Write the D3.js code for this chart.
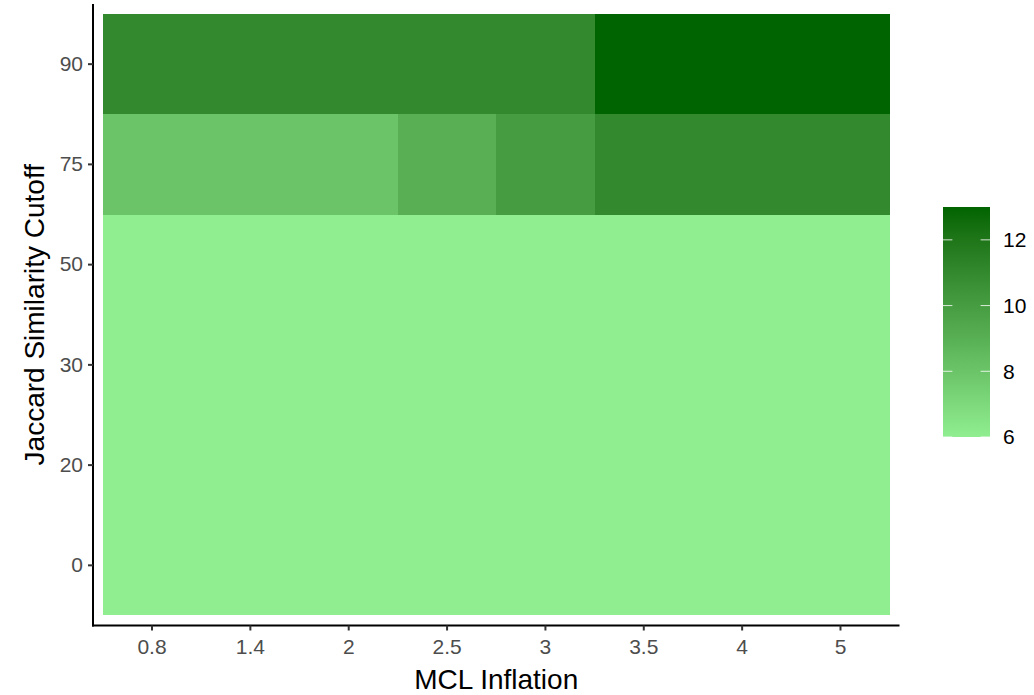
<!DOCTYPE html>
<meta charset="UTF-8">
<style>
  body { margin: 0; background: #fff; }
  text { font-family: "Liberation Sans", Arial, sans-serif; }
</style>
<svg width="1034" height="695"></svg>
<script src="https://cdn.jsdelivr.net/npm/d3@7"></script>
<script>

// data
var inflation = ["0.8", "1.4", "2", "2.5", "3", "3.5", "4", "5"];
var cutoff = ["0", "20", "30", "50", "75", "90"];
// one row per cutoff, one value per inflation
var row0  = [6, 6, 6, 6, 6, 6, 6, 6];
var row20 = [6, 6, 6, 6, 6, 6, 6, 6];
var row30 = [6, 6, 6, 6, 6, 6, 6, 6];
var row50 = [6, 6, 6, 6, 6, 6, 6, 6];
var row75 = [8, 8, 8, 9, 10, 11, 11, 11];
var row90 = [11, 11, 11, 11, 11, 13, 13, 13];
var legendTicks = [6, 8, 10, 12];
var legendLimits = [6, 13];

var rows = [row0, row20, row30, row50, row75, row90];
var cells = [];
rows.forEach(function(r, i) {
  r.forEach(function(v, j) {
    cells.push({x: inflation[j], y: cutoff[i], value: v});
  });
});

var svg = d3.select("svg");

var panel = {left: 93, right: 899.5, top: 4, bottom: 625.5};

var x = d3.scaleBand()
    .domain(inflation)
    .range([panel.left, panel.right])
    .paddingInner(0).paddingOuter(0.1);

var y = d3.scaleBand()
    .domain(cutoff)
    .range([panel.bottom, panel.top])
    .paddingInner(0).paddingOuter(0.1);

var color = d3.scaleLinear()
    .domain(legendLimits)
    .range(["#90EE90", "#006400"])
    .interpolate(d3.interpolateLab);

// tiles
svg.append("g").selectAll("rect")
  .data(cells)
  .join("rect")
    .attr("x", d => x(d.x))
    .attr("y", d => y(d.y))
    .attr("width", x.bandwidth())
    .attr("height", y.bandwidth())
    .attr("fill", d => color(d.value))
    .attr("shape-rendering", "crispEdges");

// axes
var xAxis = svg.append("g")
    .attr("transform", "translate(0," + panel.bottom + ")")
    .call(d3.axisBottom(x).tickSize(5).tickPadding(9).tickSizeOuter(0));
var yAxis = svg.append("g")
    .attr("transform", "translate(" + panel.left + ",0)")
    .call(d3.axisLeft(y).tickSize(5).tickPadding(5).tickSizeOuter(0));

[xAxis, yAxis].forEach(function(g) {
  g.attr("font-family", null).attr("font-size", null);
  g.select(".domain").attr("stroke", "#000").attr("stroke-width", 2);
  g.selectAll(".tick line").attr("stroke", "#333").attr("stroke-width", 2);
  g.selectAll(".tick text").attr("fill", "#4d4d4d").style("font-size", "21px");
});
xAxis.select(".domain").attr("d", "M" + (panel.left - 1) + ",0H" + panel.right);
yAxis.select(".domain").attr("d", "M0," + panel.top + "V" + (panel.bottom + 1));

// axis titles
svg.append("text")
    .attr("x", (panel.left + panel.right) / 2)
    .attr("y", 689)
    .attr("text-anchor", "middle")
    .style("font-size", "28px")
    .text("MCL Inflation");

svg.append("text")
    .attr("transform", "translate(44," + (panel.top + panel.bottom) / 2 + ") rotate(-90)")
    .attr("text-anchor", "middle")
    .style("font-size", "28px")
    .text("Jaccard Similarity Cutoff");

// colour bar legend
var bar = {x: 943, w: 47, top: 207, bottom: 437};
var ly = d3.scaleLinear().domain(legendLimits).range([bar.bottom, bar.top]);

var grad = svg.append("defs").append("linearGradient")
    .attr("id", "fillgrad")
    .attr("x1", 0).attr("y1", 1).attr("x2", 0).attr("y2", 0);
d3.range(0, 1.0001, 0.05).forEach(function(t) {
  grad.append("stop")
      .attr("offset", t)
      .attr("stop-color", color(legendLimits[0] + t * (legendLimits[1] - legendLimits[0])));
});

svg.append("rect")
    .attr("x", bar.x).attr("y", bar.top)
    .attr("width", bar.w).attr("height", bar.bottom - bar.top)
    .attr("fill", "url(#fillgrad)");

var lt = svg.append("g").selectAll("g")
  .data(legendTicks)
  .join("g");
lt.append("line")
    .attr("x1", bar.x).attr("x2", bar.x + 9.4)
    .attr("y1", d => ly(d)).attr("y2", d => ly(d))
    .attr("stroke", "#fff").attr("stroke-opacity", 0.8).attr("stroke-width", 1);
lt.append("line")
    .attr("x1", bar.x + bar.w - 9.4).attr("x2", bar.x + bar.w)
    .attr("y1", d => ly(d)).attr("y2", d => ly(d))
    .attr("stroke", "#fff").attr("stroke-opacity", 0.8).attr("stroke-width", 1);
lt.append("text")
    .attr("x", bar.x + bar.w + 13)
    .attr("y", d => ly(d))
    .attr("dy", "0.35em")
    .style("font-size", "21px")
    .attr("fill", "#000")
    .text(d => d);

</script>
